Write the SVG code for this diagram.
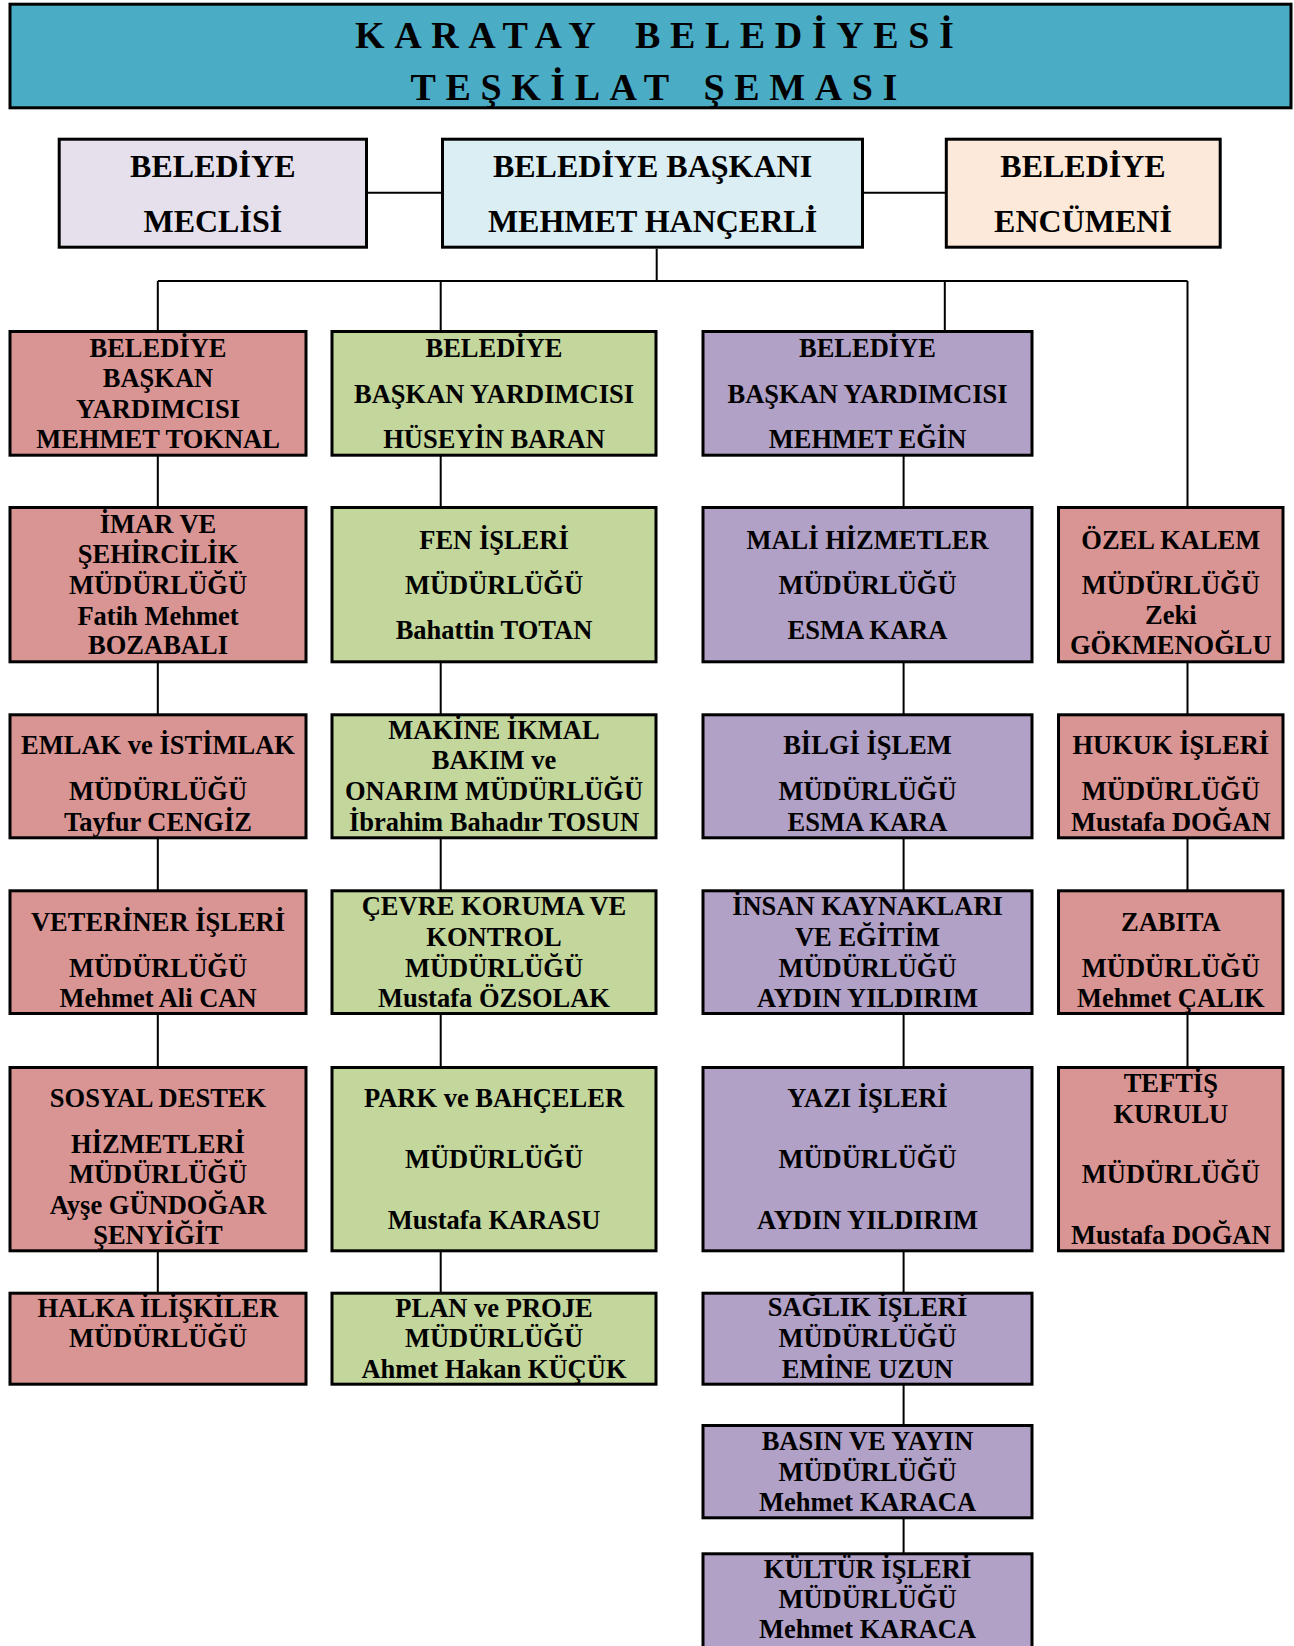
<svg xmlns="http://www.w3.org/2000/svg" width="1294" height="1646" viewBox="0 0 1294 1646">
<style>
.box{stroke:#000;stroke-width:3}
.red{fill:#D99594}.green{fill:#C3D69B}.purple{fill:#B2A1C7}
.t{font-family:"Liberation Serif","Times New Roman",serif;font-weight:bold;font-size:26.5px;text-anchor:middle;fill:#000}
.big{font-size:32px}
.title{font-family:"Liberation Serif","Times New Roman",serif;font-weight:bold;font-size:38px;letter-spacing:9.6px;fill:#000}
.con{stroke:#000;stroke-width:2;fill:none}
</style>
<rect width="1294" height="1646" fill="#fff"/>
<g id="title">
<rect class="box" x="10" y="4.2" width="1281" height="103.6" fill="#4BACC6"/>
<text class="title" x="355" y="48.3">KARATAY</text>
<text class="title" x="635" y="48.3">BELEDİYESİ</text>
<text class="title" x="410.5" y="100">TEŞKİLAT</text>
<text class="title" x="703.5" y="100">ŞEMASI</text>
</g>
<g id="connectors">
<path class="con" d="M368 192.7H442M864 192.7H946M656.7 248.7V281M157.8 281H1187.5M157.8 281V331M440.7 281V331M944.8 281V331M1187.5 281V507"/>
<path class="con" d="M157.8 456V507M157.8 663V714M157.8 839V890M157.8 1015V1067M157.8 1252V1293"/>
<path class="con" d="M440.7 456V507M440.7 663V714M440.7 839V890M440.7 1015V1067M440.7 1252V1293"/>
<path class="con" d="M903.6 456V507M903.6 663V714M903.6 839V890M903.6 1015V1067M903.6 1252V1293M903.6 1385V1425M903.6 1519V1553"/>
<path class="con" d="M1187.5 663V714M1187.5 839V890M1187.5 1015V1067"/>
</g>
<g id="meclis"><rect class="box" x="59.2" y="139.2" width="307.3" height="108" fill="#E5E0EC"/>
<text class="t big" x="212.8" y="176.7">BELEDİYE</text><text class="t big" x="212.8" y="231.7">MECLİSİ</text></g>
<g id="baskan"><rect class="box" x="442.5" y="139.2" width="420" height="108" fill="#DBEEF3"/>
<text class="t big" x="652.5" y="176.7">BELEDİYE BAŞKANI</text><text class="t big" x="652.5" y="231.7">MEHMET HANÇERLİ</text></g>
<g id="encumen"><rect class="box" x="946.3" y="139.2" width="273.9" height="108" fill="#FDE9D9"/>
<text class="t big" x="1083" y="176.7">BELEDİYE</text><text class="t big" x="1083" y="231.7">ENCÜMENİ</text></g>

<g id="by1"><rect class="box red" x="10" y="331.5" width="296" height="123.7"/>
<text class="t" x="158" y="356.7">BELEDİYE</text><text class="t" x="158" y="387.3">BAŞKAN</text><text class="t" x="158" y="417.7">YARDIMCISI</text><text class="t" x="158" y="448.3">MEHMET TOKNAL</text></g>
<g id="by2"><rect class="box green" x="332" y="331.5" width="324" height="123.7"/>
<text class="t" x="494" y="356.7">BELEDİYE</text><text class="t" x="494" y="402.7">BAŞKAN YARDIMCISI</text><text class="t" x="494" y="448.3">HÜSEYİN BARAN</text></g>
<g id="by3"><rect class="box purple" x="703" y="331.5" width="329" height="123.7"/>
<text class="t" x="867.5" y="356.7">BELEDİYE</text><text class="t" x="867.5" y="402.7">BAŞKAN YARDIMCISI</text><text class="t" x="867.5" y="448.3">MEHMET EĞİN</text></g>

<g id="imar"><rect class="box red" x="10" y="507.5" width="296" height="154.3"/>
<text class="t" x="158" y="532.7">İMAR VE</text><text class="t" x="158" y="563">ŞEHİRCİLİK</text><text class="t" x="158" y="593.5">MÜDÜRLÜĞÜ</text><text class="t" x="158" y="624.5">Fatih Mehmet</text><text class="t" x="158" y="654">BOZABALI</text></g>
<g id="fen"><rect class="box green" x="332" y="507.5" width="324" height="154.3"/>
<text class="t" x="494" y="549">FEN İŞLERİ</text><text class="t" x="494" y="593.5">MÜDÜRLÜĞÜ</text><text class="t" x="494" y="639.3">Bahattin TOTAN</text></g>
<g id="mali"><rect class="box purple" x="703" y="507.5" width="329" height="154.3"/>
<text class="t" x="867.5" y="549">MALİ HİZMETLER</text><text class="t" x="867.5" y="594">MÜDÜRLÜĞÜ</text><text class="t" x="867.5" y="639.3">ESMA KARA</text></g>
<g id="ozelkalem"><rect class="box red" x="1058.5" y="507.5" width="224.5" height="154.3"/>
<text class="t" x="1170.8" y="549">ÖZEL KALEM</text><text class="t" x="1170.8" y="594">MÜDÜRLÜĞÜ</text><text class="t" x="1170.8" y="624">Zeki</text><text class="t" x="1170.8" y="654">GÖKMENOĞLU</text></g>

<g id="emlak"><rect class="box red" x="10" y="714.8" width="296" height="123"/>
<text class="t" x="158" y="754">EMLAK ve İSTİMLAK</text><text class="t" x="158" y="800">MÜDÜRLÜĞÜ</text><text class="t" x="158" y="830.7">Tayfur CENGİZ</text></g>
<g id="makine"><rect class="box green" x="332" y="714.8" width="324" height="123"/>
<text class="t" x="494" y="738.7">MAKİNE İKMAL</text><text class="t" x="494" y="769.3">BAKIM ve</text><text class="t" x="494" y="800">ONARIM MÜDÜRLÜĞÜ</text><text class="t" x="494" y="830.7">İbrahim Bahadır TOSUN</text></g>
<g id="bilgi"><rect class="box purple" x="703" y="714.8" width="329" height="123"/>
<text class="t" x="867.5" y="754">BİLGİ İŞLEM</text><text class="t" x="867.5" y="800">MÜDÜRLÜĞÜ</text><text class="t" x="867.5" y="830.7">ESMA KARA</text></g>
<g id="hukuk"><rect class="box red" x="1058.5" y="714.8" width="224.5" height="123"/>
<text class="t" x="1170.8" y="754">HUKUK İŞLERİ</text><text class="t" x="1170.8" y="800">MÜDÜRLÜĞÜ</text><text class="t" x="1170.8" y="830.7">Mustafa DOĞAN</text></g>

<g id="veteriner"><rect class="box red" x="10" y="890.8" width="296" height="122.7"/>
<text class="t" x="158" y="930.7">VETERİNER İŞLERİ</text><text class="t" x="158" y="976.7">MÜDÜRLÜĞÜ</text><text class="t" x="158" y="1007.3">Mehmet Ali CAN</text></g>
<g id="cevre"><rect class="box green" x="332" y="890.8" width="324" height="122.7"/>
<text class="t" x="494" y="915">ÇEVRE KORUMA VE</text><text class="t" x="494" y="946">KONTROL</text><text class="t" x="494" y="976.7">MÜDÜRLÜĞÜ</text><text class="t" x="494" y="1007.3">Mustafa ÖZSOLAK</text></g>
<g id="insan"><rect class="box purple" x="703" y="890.8" width="329" height="122.7"/>
<text class="t" x="867.5" y="915">İNSAN KAYNAKLARI</text><text class="t" x="867.5" y="946">VE EĞİTİM</text><text class="t" x="867.5" y="976.7">MÜDÜRLÜĞÜ</text><text class="t" x="867.5" y="1007.3">AYDIN YILDIRIM</text></g>
<g id="zabita"><rect class="box red" x="1058.5" y="890.8" width="224.5" height="122.7"/>
<text class="t" x="1170.8" y="930.7">ZABITA</text><text class="t" x="1170.8" y="976.7">MÜDÜRLÜĞÜ</text><text class="t" x="1170.8" y="1007.3">Mehmet ÇALIK</text></g>

<g id="sosyal"><rect class="box red" x="10" y="1067.5" width="296" height="183.3"/>
<text class="t" x="158" y="1106.7">SOSYAL DESTEK</text><text class="t" x="158" y="1152.7">HİZMETLERİ</text><text class="t" x="158" y="1183.3">MÜDÜRLÜĞÜ</text><text class="t" x="158" y="1214">Ayşe GÜNDOĞAR</text><text class="t" x="158" y="1244">ŞENYİĞİT</text></g>
<g id="park"><rect class="box green" x="332" y="1067.5" width="324" height="183.3"/>
<text class="t" x="494" y="1106.7">PARK ve BAHÇELER</text><text class="t" x="494" y="1168.3">MÜDÜRLÜĞÜ</text><text class="t" x="494" y="1229.3">Mustafa KARASU</text></g>
<g id="yazi"><rect class="box purple" x="703" y="1067.5" width="329" height="183.3"/>
<text class="t" x="867.5" y="1106.7">YAZI İŞLERİ</text><text class="t" x="867.5" y="1168.3">MÜDÜRLÜĞÜ</text><text class="t" x="867.5" y="1229.3">AYDIN YILDIRIM</text></g>
<g id="teftis"><rect class="box red" x="1058.5" y="1067.5" width="224.5" height="183.3"/>
<text class="t" x="1170.8" y="1091.7">TEFTİŞ</text><text class="t" x="1170.8" y="1122.7">KURULU</text><text class="t" x="1170.8" y="1183.3">MÜDÜRLÜĞÜ</text><text class="t" x="1170.8" y="1244">Mustafa DOĞAN</text></g>

<g id="halka"><rect class="box red" x="10" y="1293.2" width="296" height="91"/>
<text class="t" x="158" y="1316.7">HALKA İLİŞKİLER</text><text class="t" x="158" y="1347.3">MÜDÜRLÜĞÜ</text></g>
<g id="plan"><rect class="box green" x="332" y="1293.2" width="324" height="91"/>
<text class="t" x="494" y="1316.7">PLAN ve PROJE</text><text class="t" x="494" y="1347.3">MÜDÜRLÜĞÜ</text><text class="t" x="494" y="1377.7">Ahmet Hakan KÜÇÜK</text></g>
<g id="saglik"><rect class="box purple" x="703" y="1293.2" width="329" height="91"/>
<text class="t" x="867.5" y="1316">SAĞLIK İŞLERİ</text><text class="t" x="867.5" y="1347.3">MÜDÜRLÜĞÜ</text><text class="t" x="867.5" y="1377.7">EMİNE UZUN</text></g>
<g id="basin"><rect class="box purple" x="703" y="1425.5" width="329" height="92.3"/>
<text class="t" x="867.5" y="1450">BASIN VE YAYIN</text><text class="t" x="867.5" y="1480.5">MÜDÜRLÜĞÜ</text><text class="t" x="867.5" y="1510.7">Mehmet KARACA</text></g>
<g id="kultur"><rect class="box purple" x="703" y="1553.8" width="329" height="100"/>
<text class="t" x="867.5" y="1578.3">KÜLTÜR İŞLERİ</text><text class="t" x="867.5" y="1608.3">MÜDÜRLÜĞÜ</text><text class="t" x="867.5" y="1638.3">Mehmet KARACA</text></g>
</svg>
